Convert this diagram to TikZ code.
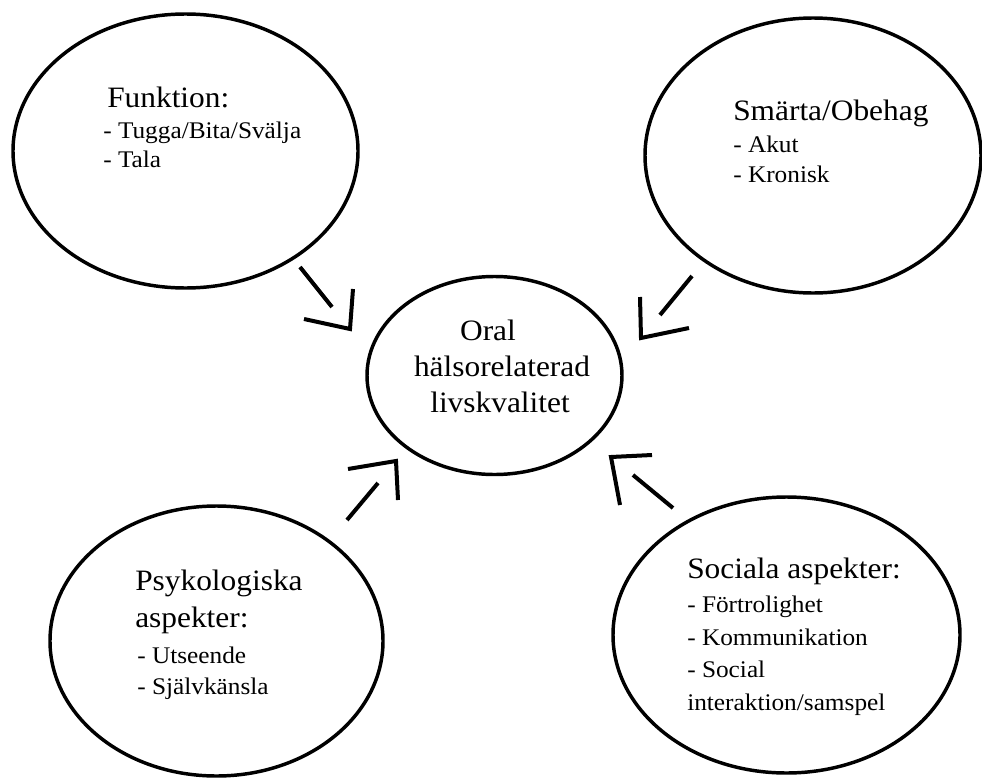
\documentclass[tikz,border=0pt]{standalone}
\usepackage{fontspec}
\setmainfont[FakeStretch=1.06]{Liberation Serif}
\usetikzlibrary{shapes.geometric}
\tikzset{
  ell/.style={draw, ellipse, line width=2.6pt, inner sep=0pt},
  hd/.style={anchor=base west, inner sep=0pt, font=\fontsize{22.2}{26}\selectfont},
  sb/.style={anchor=base west, inner sep=0pt, font=\fontsize{17.9}{21}\selectfont},
  ctr/.style={anchor=base, inner sep=0pt, font=\fontsize{22.2}{26}\selectfont},
  arr/.style={line width=3pt}
}
\begin{document}
\begin{tikzpicture}[x=0.75pt,y=-0.75pt]
\useasboundingbox (0,0) rectangle (982,778);
% ellipses
\node[ell, minimum width=258.75pt, minimum height=205.5pt] (fun) at (185.5,151) {};
\node[ell, minimum width=252pt, minimum height=206.25pt] (sma) at (813,155.5) {};
\node[ell, minimum width=191.25pt, minimum height=148.5pt] (oral) at (494.5,375.5) {};
\node[ell, minimum width=249.75pt, minimum height=202.5pt] (psy) at (216.5,641) {};
\node[ell, minimum width=260.25pt, minimum height=207pt] (soc) at (786.5,635) {};
% texts
\node[hd] (f1) at (107,107) {Funktion:};
\node[sb] (f2) at (103,138) {- Tugga/Bita/Svälja};
\node[sb] (f3) at (103,167) {- Tala};
\node[hd] (s1) at (733,120) {Smärta/Obehag};
\node[sb] (s2) at (733,152) {- Akut};
\node[sb] (s3) at (733,182) {- Kronisk};
\node[ctr] (o1) at (488,340) {Oral};
\node[ctr] (o2) at (502,376) {hälsorelaterad};
\node[ctr] (o3) at (500,412) {livskvalitet};
\node[hd] (p1) at (135,590) {Psykologiska};
\node[hd] (p2) at (135,627) {aspekter:};
\node[sb] (p3) at (137,663) {- Utseende};
\node[sb] (p4) at (137,694) {- Självkänsla};
\node[hd] (c1) at (687,578) {Sociala aspekter:};
\node[sb] (c2) at (687,612) {- Förtrolighet};
\node[sb] (c3) at (687,645) {- Kommunikation};
\node[sb] (c4) at (687,677) {- Social};
\node[sb] (c5) at (687,710) {interaktion/samspel};
% arrows: shaft + open chevron
\coordinate (a1s) at (300,267); \coordinate (a1e) at (332,307);
\coordinate (a1p) at (304,319); \coordinate (a1c) at (350,329); \coordinate (a1q) at (353,289);
\coordinate (a2s) at (692,276); \coordinate (a2e) at (660,315);
\coordinate (a2p) at (640,297); \coordinate (a2c) at (641,338); \coordinate (a2q) at (689,328);
\coordinate (a3s) at (347,520); \coordinate (a3e) at (378,483);
\coordinate (a3p) at (348,469); \coordinate (a3c) at (396,461); \coordinate (a3q) at (398,500);
\coordinate (a4s) at (673,508); \coordinate (a4e) at (633,475);
\coordinate (a4p) at (652,455); \coordinate (a4c) at (611,457); \coordinate (a4q) at (620,505);
\draw[arr] (a1s) -- (a1e);
\draw[arr] (a1p) -- (a1c) -- (a1q);
\draw[arr] (a2s) -- (a2e);
\draw[arr] (a2p) -- (a2c) -- (a2q);
\draw[arr] (a3s) -- (a3e);
\draw[arr] (a3p) -- (a3c) -- (a3q);
\draw[arr] (a4s) -- (a4e);
\draw[arr] (a4p) -- (a4c) -- (a4q);
\end{tikzpicture}
\end{document}
